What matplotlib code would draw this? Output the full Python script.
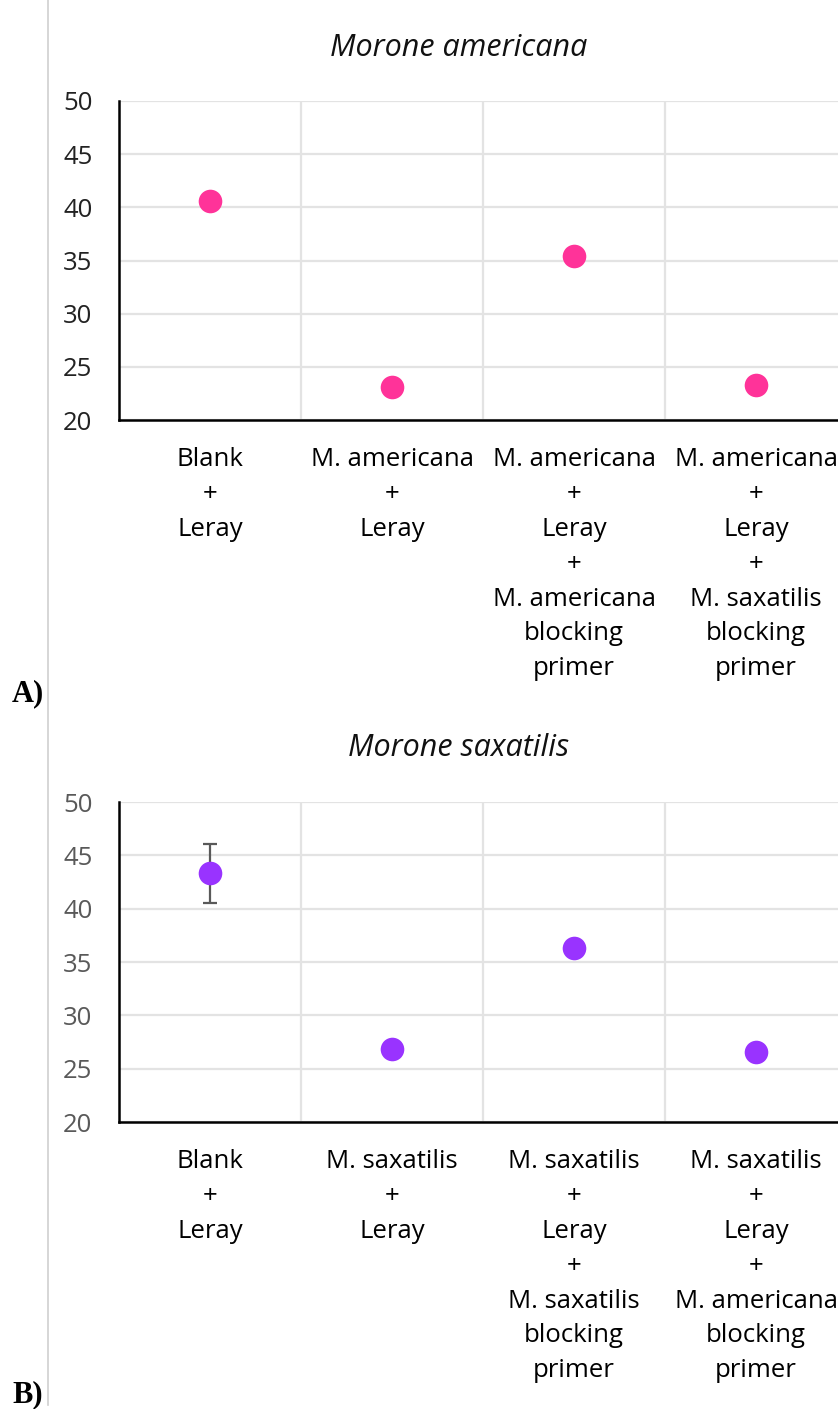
import matplotlib
matplotlib.use("Agg")
import matplotlib.pyplot as plt

plt.rcParams['font.family'] = ['Open Sans', 'DejaVu Sans']

# Panel A: Morone americana
cats_a = [
    "Blank\n+\nLeray",
    "M. americana\n+\nLeray",
    "M. americana\n+\nLeray\n+\nM. americana\nblocking\nprimer",
    "M. americana\n+\nLeray\n+\nM. saxatilis\nblocking\nprimer",
]
vals_a = [40.6, 23.1, 35.4, 23.3]

# Panel B: Morone saxatilis
cats_b = [
    "Blank\n+\nLeray",
    "M. saxatilis\n+\nLeray",
    "M. saxatilis\n+\nLeray\n+\nM. saxatilis\nblocking\nprimer",
    "M. saxatilis\n+\nLeray\n+\nM. americana\nblocking\nprimer",
]
vals_b = [43.3, 26.8, 36.3, 26.6]
err_b = [2.8, 0, 0, 0]

yticks = [20, 25, 30, 35, 40, 45, 50]

W, H = 838, 1409
fig = plt.figure(figsize=(W / 100, H / 100), dpi=100)


def panel(rect, cats, vals, color, tick_color, err=None):
    ax = fig.add_axes(rect)
    x = list(range(len(cats)))
    if err is not None:
        ax.errorbar(x, vals, yerr=err, fmt='none', ecolor='#595959',
                    elinewidth=1.6, capsize=5, capthick=1.6, zorder=3)
    ax.plot(x, vals, linestyle='none', marker='o', markersize=17,
            color=color, markeredgewidth=0, zorder=4, clip_on=False)
    ax.set_xlim(-0.5, 3.5)
    ax.set_ylim(20, 50)
    ax.set_yticks(yticks)
    ax.set_yticklabels([str(t) for t in yticks], fontsize=18.5, color=tick_color)
    ax.set_xticks(x)
    ax.set_xticklabels(cats, fontsize=18.5, color='black', linespacing=1.52,
                       va='top')
    ax.set_xticks([0.5, 1.5, 2.5], minor=True)
    ax.tick_params(axis='both', which='both', length=0)
    ax.tick_params(axis='x', which='major', pad=19.5)
    ax.tick_params(axis='y', pad=19)
    ax.grid(axis='y', which='major', color='#e3e3e3', linewidth=1.6)
    ax.grid(axis='x', which='minor', color='#e3e3e3', linewidth=1.6)
    ax.set_axisbelow(True)
    for s in ('top', 'right'):
        ax.spines[s].set_visible(False)
    for s in ('left', 'bottom'):
        ax.spines[s].set_color('black')
        ax.spines[s].set_linewidth(1.8)
    return ax


ax_a = panel([119 / W, 1 - 420 / H, 728 / W, 319 / H], cats_a, vals_a,
             '#ff3399', '#222222')
ax_b = panel([119 / W, 1 - 1122 / H, 728 / W, 320 / H], cats_b, vals_b,
             '#9933ff', '#595959', err=err_b)

fig.text(459 / W, 1 - 48 / H, 'Morone americana', fontsize=22, style='italic',
         ha='center', va='center', color='#111111')
fig.text(459 / W, 1 - 748 / H, 'Morone saxatilis', fontsize=22, style='italic',
         ha='center', va='center', color='#111111')

# thin page margin rule and panel letters
fig.add_artist(plt.Line2D([47.5 / W, 47.5 / W], [1 - 1405 / H, 1.0],
                          color='#d0d0d0', linewidth=1.2))
fig.text(12 / W, 1 - 694 / H, 'A)', fontsize=22, fontweight='bold',
         family='Liberation Serif', ha='left', va='center')
fig.text(12 / W, 1 - 1395 / H, 'B)', fontsize=22, fontweight='bold',
         family='Liberation Serif', ha='left', va='center')

fig.savefig('out.png', dpi=100)
